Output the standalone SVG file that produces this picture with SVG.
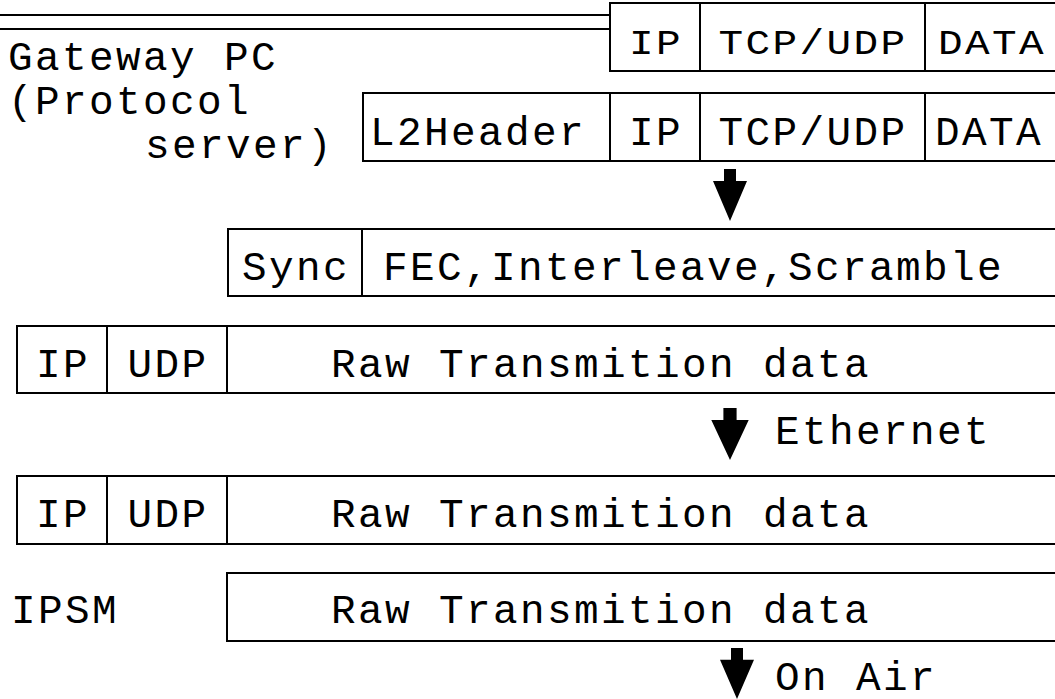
<svg xmlns="http://www.w3.org/2000/svg" width="1055" height="699" viewBox="0 0 1055 699">
  <style>
    .cell { fill: #fff; stroke: #000; stroke-width: 2; }
    .rule { stroke: #000; stroke-width: 2; fill: none; }
    .t { font-family: "Liberation Mono", "DejaVu Sans Mono", monospace; font-size: 41px; letter-spacing: 2.4px; fill: #000; }
    .c { text-anchor: middle; }
    .arrow { fill: #000; stroke: none; }
  </style>
  <defs>
    <!-- down arrow: stem plus triangular head, tip at (0,0) -->
    <path id="down" d="M-6,-52 H6 V-40 H17 L0,0 L-17,-40 H-6 Z"/>
  </defs>

  <rect width="1055" height="699" fill="#fff"/>

  <!-- double rule at the top -->
  <g id="top-rules">
    <line class="rule" x1="0" y1="15" x2="1055" y2="15"/>
    <line class="rule" x1="0" y1="29" x2="610" y2="29"/>
  </g>

  <!-- labels -->
  <g id="gateway-label">
    <text class="t" x="8" y="70">Gateway PC</text>
    <text class="t" x="8" y="114">(Protocol</text>
    <text class="t" x="145" y="158">server)</text>
  </g>
  <g id="ipsm-label">
    <text class="t" x="11" y="623">IPSM</text>
  </g>

  <!-- IP packet -->
  <g id="ip-packet">
    <rect class="cell" x="610" y="3" width="460" height="68"/>
    <line class="rule" x1="700" y1="3" x2="700" y2="71"/>
    <line class="rule" x1="925" y1="3" x2="925" y2="71"/>
    <g transform="translate(0,54) scale(1,0.86)">
      <text class="t c" x="656" y="0">IP</text>
      <text class="t c" x="813" y="0">TCP/UDP</text>
      <text class="t c" x="992" y="0">DATA</text>
    </g>
  </g>

  <!-- L2 frame -->
  <g id="l2-frame">
    <rect class="cell" x="363" y="93" width="710" height="68"/>
    <line class="rule" x1="610" y1="93" x2="610" y2="161"/>
    <line class="rule" x1="700" y1="93" x2="700" y2="161"/>
    <line class="rule" x1="925" y1="93" x2="925" y2="161"/>
    <text class="t" x="370" y="145">L2Header</text>
    <text class="t c" x="656" y="145">IP</text>
    <text class="t c" x="813" y="145">TCP/UDP</text>
    <text class="t c" x="989" y="145">DATA</text>
  </g>

  <!-- coded stream -->
  <g id="coded-stream">
    <rect class="cell" x="228" y="229" width="845" height="67"/>
    <line class="rule" x1="362" y1="229" x2="362" y2="296"/>
    <text class="t" x="242" y="280">Sync</text>
    <text class="t" x="383" y="280">FEC,Interleave,Scramble</text>
  </g>

  <!-- UDP datagram, sending side -->
  <g id="udp-tx">
    <rect class="cell" x="17" y="326" width="1056" height="67"/>
    <line class="rule" x1="107" y1="326" x2="107" y2="393"/>
    <line class="rule" x1="227" y1="326" x2="227" y2="393"/>
    <text class="t c" x="63" y="377">IP</text>
    <text class="t c" x="168" y="377">UDP</text>
    <text class="t" x="331" y="377">Raw Transmition data</text>
  </g>

  <!-- UDP datagram, receiving side -->
  <g id="udp-rx">
    <rect class="cell" x="17" y="476" width="1056" height="68"/>
    <line class="rule" x1="107" y1="476" x2="107" y2="544"/>
    <line class="rule" x1="227" y1="476" x2="227" y2="544"/>
    <text class="t c" x="63" y="527">IP</text>
    <text class="t c" x="168" y="527">UDP</text>
    <text class="t" x="331" y="527">Raw Transmition data</text>
  </g>

  <!-- payload at the IPSM -->
  <g id="ipsm-data">
    <rect class="cell" x="227" y="573" width="846" height="68"/>
    <text class="t" x="331" y="623">Raw Transmition data</text>
  </g>

  <!-- flow arrows -->
  <g id="connectors">
    <use href="#down" class="arrow" transform="translate(730,221)"/>
    <use href="#down" class="arrow" transform="translate(730,460) scale(1.1,1)"/>
    <text class="t" x="775" y="444">Ethernet</text>
    <use href="#down" class="arrow" transform="translate(737,699) scale(1,0.98)"/>
    <text class="t" x="775" y="690">On Air</text>
  </g>
</svg>
